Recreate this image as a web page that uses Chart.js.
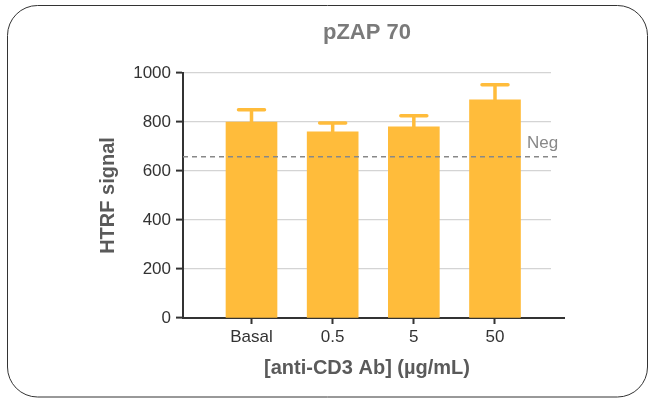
<!DOCTYPE html>
<html lang="en">
<head>
  <meta charset="UTF-8">
  <title>pZAP 70</title>
  <script src="https://cdn.jsdelivr.net/npm/chart.js"></script>
  <style>
    body {
      margin: 0;
      background: white;
    }
    canvas {
      display: block;
    }
  </style>
</head>
<body>

<canvas id="grafica" width="648" height="398"></canvas>

<script>
  // concentrations and measured HTRF signal (mean + SD)
  const doses = ['Basal', '0.5', '5', '50'];
  const signal = [800, 760, 780, 890];
  const sd = [50, 36, 46, 62];
  const negLevel = 658;
  const yTicks = [0, 200, 400, 600, 800, 1000];

  const barColor = '#FFBC3B';
  const font = "'Liberation Sans', Arial, sans-serif";

  // rounded frame + title centred over the plot area
  const frame = {
    id: 'frame',
    beforeDraw(chart) {
      const ctx = chart.ctx;
      const area = chart.chartArea;
      ctx.save();
      ctx.beginPath();
      ctx.roundRect(7.5, 5.5, 640, 391.5, 30);
      ctx.strokeStyle = '#333';
      ctx.lineWidth = 1;
      ctx.stroke();

      ctx.fillStyle = '#7a7a7a';
      ctx.font = 'bold 22px ' + font;
      ctx.textAlign = 'center';
      ctx.textBaseline = 'middle';
      ctx.fillText('pZAP 70', (area.left + area.right) / 2, 33);
      ctx.restore();
    }
  };

  // SD whiskers (upper side only) + negative-control line
  const extras = {
    id: 'extras',
    afterDatasetsDraw(chart) {
      const ctx = chart.ctx;
      const y = chart.scales.y;
      const area = chart.chartArea;
      const meta = chart.getDatasetMeta(0);

      ctx.save();
      // x axis line runs a little past the plot
      ctx.strokeStyle = '#333';
      ctx.lineWidth = 2;
      ctx.beginPath();
      ctx.moveTo(area.right - 1, area.bottom);
      ctx.lineTo(area.right + 14, area.bottom);
      ctx.stroke();

      ctx.strokeStyle = barColor;
      ctx.lineWidth = 3.5;
      ctx.lineCap = 'round';
      meta.data.forEach((bar, i) => {
        const top = y.getPixelForValue(signal[i]);
        const hi = y.getPixelForValue(signal[i] + sd[i]);
        ctx.beginPath();
        ctx.moveTo(bar.x, top);
        ctx.lineTo(bar.x, hi);
        ctx.moveTo(bar.x - 13, hi);
        ctx.lineTo(bar.x + 13, hi);
        ctx.stroke();
      });

      const ny = y.getPixelForValue(negLevel);
      ctx.strokeStyle = '#888';
      ctx.lineWidth = 1.5;
      ctx.lineCap = 'butt';
      ctx.setLineDash([5, 4]);
      ctx.beginPath();
      ctx.moveTo(area.left, ny);
      ctx.lineTo(area.right + 7, ny);
      ctx.stroke();
      ctx.setLineDash([]);

      ctx.fillStyle = '#888';
      ctx.font = '17px ' + font;
      ctx.textBaseline = 'middle';
      ctx.textAlign = 'left';
      ctx.fillText('Neg', area.right - 24, ny - 13);
      ctx.restore();
    }
  };

  new Chart(document.getElementById('grafica'), {
    type: 'bar',
    data: {
      datasets: [{
        data: doses.map((d, i) => ({ x: i, y: signal[i] })),
        backgroundColor: barColor,
        barThickness: 51
      }]
    },
    options: {
      responsive: false,
      animation: false,
      layout: { padding: { left: 90, right: 97, top: 73, bottom: 0 } },
      plugins: {
        legend: { display: false },
        tooltip: { enabled: false }
      },
      scales: {
        x: {
          type: 'linear',
          min: -0.844,
          max: 3.69,
          offset: false,
          afterFit(scale) { scale.height = 80; },
          grid: { display: true, drawOnChartArea: false, offset: false, tickLength: 6, tickColor: '#333', tickWidth: 2 },
          border: { color: '#333', width: 2 },
          ticks: {
            stepSize: 1,
            includeBounds: false,
            autoSkip: false,
            maxRotation: 0,
            padding: 3,
            color: '#333',
            font: { family: font, size: 17 },
            callback: v => doses[v] !== undefined ? doses[v] : ''
          },
          title: {
            display: true,
            text: '[anti-CD3 Ab] (µg/mL)',
            color: '#5a5a5a',
            font: { family: font, size: 20, weight: 'bold' },
            padding: { top: 0, bottom: 18 }
          }
        },
        y: {
          min: 0,
          max: 1000,
          afterFit(scale) { scale.width = 93; },
          afterBuildTicks(scale) { scale.ticks = yTicks.map(v => ({ value: v })); },
          grid: { color: '#d4d4d4', lineWidth: 1.2, tickLength: 7, tickColor: '#333', tickWidth: 2 },
          border: { color: '#333', width: 2 },
          ticks: {
            padding: 5,
            color: '#333',
            font: { family: font, size: 17 },
            callback: v => String(v)
          },
          title: {
            display: true,
            text: 'HTRF signal',
            color: '#5a5a5a',
            font: { family: font, size: 20, weight: 'bold' },
            padding: { top: 6, bottom: 0 }
          }
        }
      }
    },
    plugins: [frame, extras]
  });
</script>

</body>
</html>
